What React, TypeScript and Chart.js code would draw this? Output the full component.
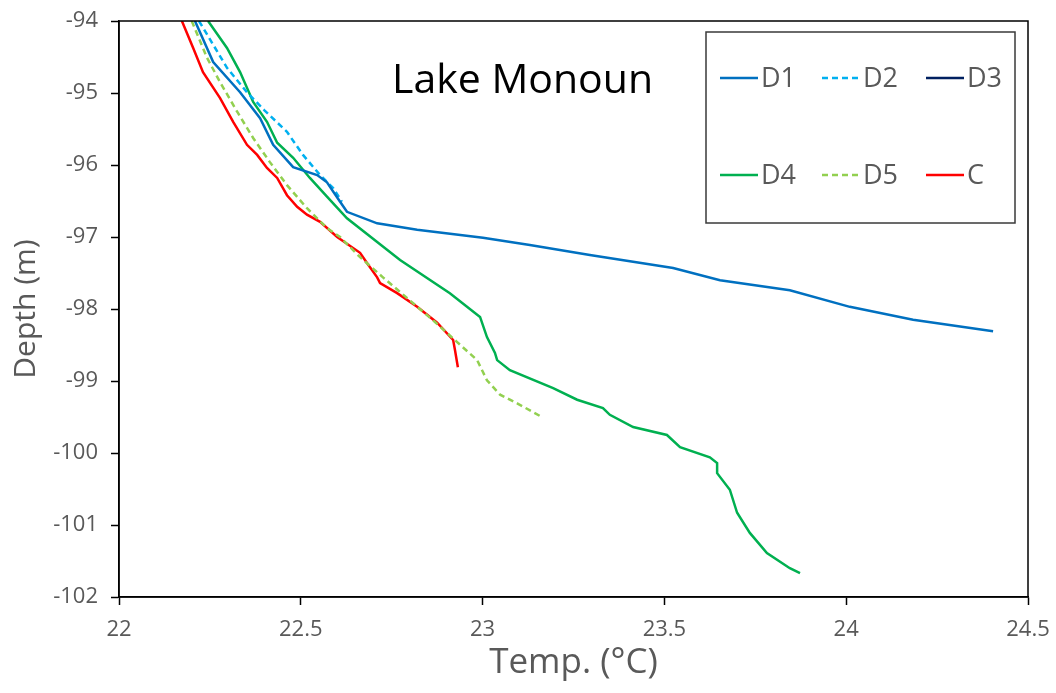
import React, { useEffect, useRef } from 'react';
import { Chart, registerables } from 'chart.js';

Chart.register(...registerables);

// ---- Data ----
const xTickValues = [22, 22.5, 23, 23.5, 24, 24.5];
const xTickLabels = ['22', '22.5', '23', '23.5', '24', '24.5'];
const yTickValues = [-94, -95, -96, -97, -98, -99, -100, -101, -102];
const yTickLabels = ['-94', '-95', '-96', '-97', '-98', '-99', '-100', '-101', '-102'];

const chartTitle = 'Lake Monoun';
const xAxisTitle = 'Temp. (°C)';
const yAxisTitle = 'Depth (m)';

const seriesNames = ['D1', 'D2', 'D3', 'D4', 'D5', 'C'];

const d1Temp = [22.209, 22.259, 22.333, 22.388, 22.424, 22.479, 22.545, 22.572, 22.608, 22.627, 22.71, 22.82, 23.001, 23.13, 23.295, 23.524, 23.653, 23.845, 24.01, 24.184, 24.404];
const d1Depth = [-94.0, -94.57, -94.99, -95.35, -95.72, -96.03, -96.14, -96.24, -96.51, -96.65, -96.81, -96.9, -97.01, -97.11, -97.25, -97.43, -97.6, -97.74, -97.97, -98.15, -98.31];

const d2Temp = [22.22, 22.297, 22.352, 22.4, 22.462, 22.506, 22.553, 22.589, 22.613];
const d2Depth = [-94.0, -94.65, -94.99, -95.24, -95.54, -95.86, -96.14, -96.32, -96.51];

const d3Temp: number[] = [];
const d3Depth: number[] = [];

const d4Temp = [22.245, 22.297, 22.333, 22.369, 22.407, 22.435, 22.479, 22.525, 22.572, 22.627, 22.773, 22.91, 22.993, 23.012, 23.034, 23.04, 23.075, 23.194, 23.26, 23.331, 23.35, 23.414, 23.507, 23.543, 23.625, 23.645, 23.645, 23.68, 23.7, 23.735, 23.782, 23.845, 23.873];
const d4Depth = [-94.0, -94.375, -94.71, -95.125, -95.4, -95.69, -95.9, -96.18, -96.44, -96.74, -97.32, -97.78, -98.11, -98.39, -98.61, -98.71, -98.85, -99.1, -99.26, -99.375, -99.47, -99.64, -99.75, -99.92, -100.06, -100.14, -100.28, -100.51, -100.83, -101.11, -101.39, -101.6, -101.67];

const d5Temp = [22.2, 22.242, 22.278, 22.325, 22.369, 22.415, 22.462, 22.517, 22.572, 22.608, 22.663, 22.726, 22.809, 22.869, 22.93, 22.985, 23.012, 23.048, 23.095, 23.163];
const d5Depth = [-94.0, -94.51, -94.85, -95.26, -95.625, -95.96, -96.28, -96.6, -96.875, -97.0, -97.28, -97.56, -97.92, -98.18, -98.46, -98.71, -98.99, -99.19, -99.31, -99.5];

const cTemp = [22.173, 22.204, 22.231, 22.278, 22.314, 22.352, 22.38, 22.407, 22.435, 22.462, 22.49, 22.517, 22.553, 22.6, 22.663, 22.682, 22.71, 22.718, 22.765, 22.82, 22.875, 22.919, 22.924, 22.932];
const cDepth = [-94.0, -94.375, -94.71, -95.07, -95.4, -95.72, -95.86, -96.04, -96.18, -96.42, -96.58, -96.69, -96.79, -97.0, -97.22, -97.36, -97.56, -97.64, -97.78, -97.97, -98.19, -98.43, -98.57, -98.81];

const seriesTemps = [d1Temp, d2Temp, d3Temp, d4Temp, d5Temp, cTemp];
const seriesDepths = [d1Depth, d2Depth, d3Depth, d4Depth, d5Depth, cDepth];
const seriesColors = ['#0070C0', '#00B0F0', '#002060', '#00B050', '#92D050', '#FF0000'];
const seriesDashes: number[][] = [[], [6, 4], [], [], [6, 4], []];

const GRAY = '#595959';
const FONT = "'Open Sans', sans-serif";

const framePlugin = {
  id: 'frame',
  afterDatasetsDraw(chart: any) {
    const { ctx, chartArea: a } = chart;
    ctx.save();
    ctx.strokeStyle = '#000';
    ctx.lineWidth = 1.5;
    ctx.strokeRect(a.left, a.top, a.right - a.left, a.bottom - a.top);
    ctx.restore();
  },
};

const titlePlugin = {
  id: 'innerTitle',
  afterDraw(chart: any) {
    const { ctx, chartArea: a } = chart;
    ctx.save();
    ctx.fillStyle = '#000';
    ctx.font = `41px ${FONT}`;
    ctx.textAlign = 'left';
    ctx.textBaseline = 'alphabetic';
    ctx.fillText(chartTitle, a.left + 273, a.top + 72);
    ctx.restore();
  },
};

const legendPlugin = {
  id: 'boxLegend',
  afterDraw(chart: any) {
    const { ctx, chartArea: a } = chart;
    const bx = a.left + 587;
    const by = a.top + 11;
    const bw = 309;
    const bh = 191;
    ctx.save();
    ctx.fillStyle = '#fff';
    ctx.fillRect(bx, by, bw, bh);
    ctx.strokeStyle = '#3a3a3a';
    ctx.lineWidth = 1.5;
    ctx.strokeRect(bx, by, bw, bh);
    const colX = [bx + 14, bx + 116, bx + 220];
    const rowY = [by + 46, by + 143];
    ctx.font = `27px ${FONT}`;
    ctx.textBaseline = 'middle';
    ctx.textAlign = 'left';
    chart.data.datasets.forEach((ds: any, i: number) => {
      const x = colX[i % 3];
      const y = rowY[Math.floor(i / 3)];
      ctx.beginPath();
      ctx.strokeStyle = ds.borderColor;
      ctx.lineWidth = 2.5;
      ctx.setLineDash(ds.borderDash || []);
      ctx.moveTo(x, y);
      ctx.lineTo(x + 38, y);
      ctx.stroke();
      ctx.setLineDash([]);
      ctx.fillStyle = GRAY;
      ctx.fillText(ds.label, x + 41, y + 1);
    });
    ctx.restore();
  },
};

export default function App() {
  const ref = useRef<HTMLCanvasElement | null>(null);

  useEffect(() => {
    if (!ref.current) return;
    const datasets = seriesNames.map((name, i) => ({
      label: name,
      data: seriesTemps[i].map((t, j) => ({ x: t, y: seriesDepths[i][j] })),
      borderColor: seriesColors[i],
      backgroundColor: seriesColors[i],
      borderDash: seriesDashes[i],
      borderWidth: 2.5,
      pointRadius: 0,
      showLine: true,
      tension: 0,
      fill: false,
    }));

    const chart = new Chart(ref.current, {
      type: 'scatter',
      data: { datasets },
      plugins: [framePlugin, titlePlugin, legendPlugin],
      options: {
        animation: false,
        responsive: false,
        maintainAspectRatio: false,
        layout: { padding: { left: 0, right: 28, top: 21, bottom: 0 } },
        plugins: {
          legend: { display: false },
          tooltip: { enabled: false },
          title: { display: false },
        },
        scales: {
          x: {
            type: 'linear',
            min: 22,
            max: 24.5,
            afterBuildTicks: (scale: any) => {
              scale.ticks = xTickValues.map((v) => ({ value: v }));
            },
            afterFit: (scale: any) => {
              scale.height = 96;
              scale.paddingLeft = 0;
              scale.paddingRight = 0;
            },
            ticks: {
              color: GRAY,
              font: { family: FONT, size: 22 },
              padding: 12,
              maxRotation: 0,
              autoSkip: false,
              callback: (v: any) => {
                const k = xTickValues.indexOf(Number(v));
                return k >= 0 ? xTickLabels[k] : '';
              },
            },
            grid: {
              drawOnChartArea: false,
              drawTicks: true,
              tickLength: 8,
              color: '#000',
              tickWidth: 1.5,
            },
            border: { display: true, color: '#000', width: 1.5 },
            title: {
              display: true,
              text: xAxisTitle,
              color: GRAY,
              font: { family: FONT, size: 35 },
              padding: { top: 0, bottom: 9 },
            },
          },
          y: {
            type: 'linear',
            min: -102,
            max: -94,
            afterBuildTicks: (scale: any) => {
              scale.ticks = yTickValues.map((v) => ({ value: v }));
            },
            afterFit: (scale: any) => {
              scale.width = 119;
              scale.paddingTop = 0;
              scale.paddingBottom = 0;
            },
            ticks: {
              color: GRAY,
              font: { family: FONT, size: 22 },
              padding: 13,
              autoSkip: false,
              callback: (v: any) => {
                const k = yTickValues.indexOf(Number(v));
                return k >= 0 ? yTickLabels[k] : '';
              },
            },
            grid: {
              drawOnChartArea: false,
              drawTicks: true,
              tickLength: 8,
              color: '#000',
              tickWidth: 1.5,
            },
            border: { display: true, color: '#000', width: 1.5 },
            title: {
              display: true,
              text: yAxisTitle,
              color: GRAY,
              font: { family: FONT, size: 30 },
              padding: { top: 8, bottom: 0 },
            },
          },
        },
      },
    } as any);
    return () => chart.destroy();
  }, []);

  return (
    <div style={{ position: 'absolute', left: 0, top: 0, width: 1056, height: 693, background: '#fff' }}>
      <canvas ref={ref} width={1056} height={693} style={{ display: 'block', width: 1056, height: 693 }} />
    </div>
  );
}
